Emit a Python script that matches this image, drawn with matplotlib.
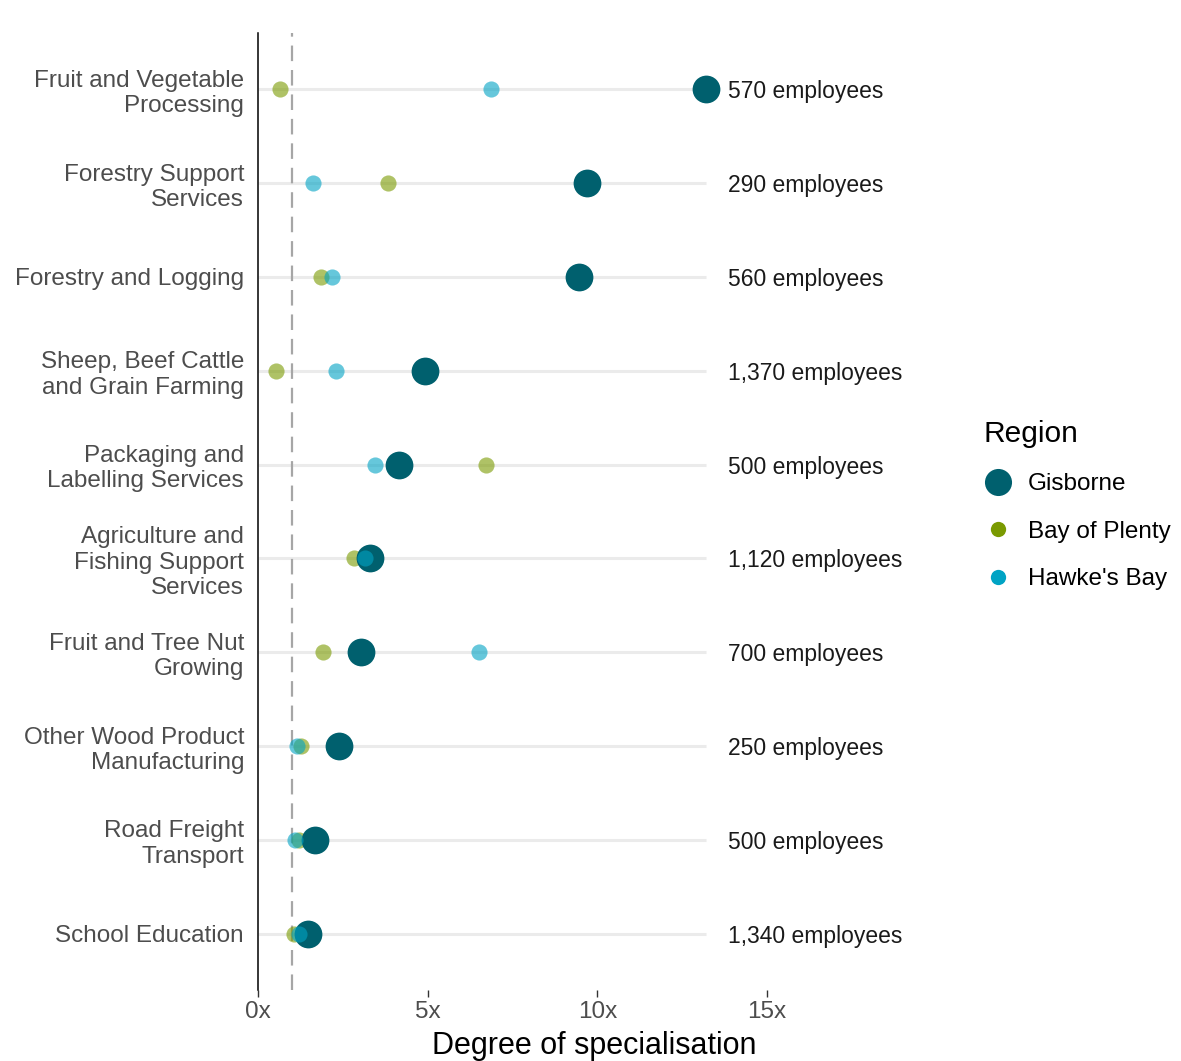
import matplotlib.pyplot as plt
from matplotlib.lines import Line2D

plt.rcParams['font.family'] = ['Liberation Sans', 'DejaVu Sans']

# Data (top to bottom)
industries = [
    "Fruit and Vegetable\nProcessing",
    "Forestry Support\nServices",
    "Forestry and Logging",
    "Sheep, Beef Cattle\nand Grain Farming",
    "Packaging and\nLabelling Services",
    "Agriculture and\nFishing Support\nServices",
    "Fruit and Tree Nut\nGrowing",
    "Other Wood Product\nManufacturing",
    "Road Freight\nTransport",
    "School Education",
]
gisborne = [13.2, 9.7, 9.45, 4.93, 4.16, 3.30, 3.04, 2.39, 1.68, 1.47]
bay_of_plenty = [0.65, 3.83, 1.86, 0.53, 6.73, 2.83, 1.92, 1.27, 1.21, 1.06]
hawkes_bay = [6.87, 1.62, 2.18, 2.30, 3.45, 3.16, 6.52, 1.15, 1.09, 1.21]
employees = [570, 290, 560, 1370, 500, 1120, 700, 250, 500, 1340]

x_ticks = [0, 5, 10, 15]
x_tick_labels = ["0x", "5x", "10x", "15x"]

gis_col = "#00606E"
bop_col = "#7A9A01"
hb_col = "#00A3C4"

fig = plt.figure(figsize=(11.81, 10.61), dpi=100)
ax = fig.add_axes([258 / 1181, 1 - 990 / 1061, (930 - 258) / 1181, (990 - 33) / 1061])

y = list(range(len(industries)))
top = max(gisborne + bay_of_plenty + hawkes_bay)

# light grey lollipop lines
ax.hlines(y, 0, top, color="#EBEBEB", lw=2.2, zorder=1)
# reference line at 1x
ax.axvline(1, color="#A6A6A6", lw=1.6, ls=(0, (7, 4)), zorder=2)

ax.scatter(bay_of_plenty, y, s=135, color=bop_col, alpha=0.6, lw=0, zorder=3)
ax.scatter(gisborne, y, s=400, color=gis_col, lw=0, zorder=4)
ax.scatter(hawkes_bay, y, s=135, color=hb_col, alpha=0.6, lw=0, zorder=5)

for yi, n in zip(y, employees):
    ax.text(top * 1.048, yi, f"{n:,} employees", va="center_baseline", ha="left",
            fontsize=16.5, color="#1A1A1A", clip_on=False)

ax.set_xlim(0, 19.8)
ax.set_ylim(len(industries) - 1 + 0.6, -0.6)
ax.set_yticks(y)
ax.set_yticklabels(industries, fontsize=17.5, color="#4D4D4D", linespacing=1.2,
                   ha="right", multialignment="right")
ax.set_xticks(x_ticks)
ax.set_xticklabels(x_tick_labels, fontsize=17.5, color="#4D4D4D")
ax.tick_params(axis="y", length=0, pad=10)
ax.tick_params(axis="x", length=5, width=1, color="#333333", pad=3)

for side in ["top", "right", "bottom"]:
    ax.spines[side].set_visible(False)
ax.spines["left"].set_color("black")
ax.spines["left"].set_linewidth(1.1)

ax.set_xlabel("Degree of specialisation", fontsize=22, color="black", labelpad=6)

handles = [
    Line2D([], [], marker="o", ls="none", color=gis_col, markersize=19.5, mew=0),
    Line2D([], [], marker="o", ls="none", color=bop_col, markersize=11, mew=0),
    Line2D([], [], marker="o", ls="none", color=hb_col, markersize=11, mew=0),
]
leg = fig.legend(handles, ["Gisborne", "Bay of Plenty", "Hawke's Bay"],
                 title="Region", loc="upper left", bbox_to_anchor=(962 / 1181, 1 - 398 / 1061),
                 frameon=False, fontsize=17.5, title_fontsize=21.5,
                 labelspacing=1.05, handletextpad=0.6, handlelength=1.2)
leg._legend_box.align = "left"

fig.savefig("out.png", dpi=100)
